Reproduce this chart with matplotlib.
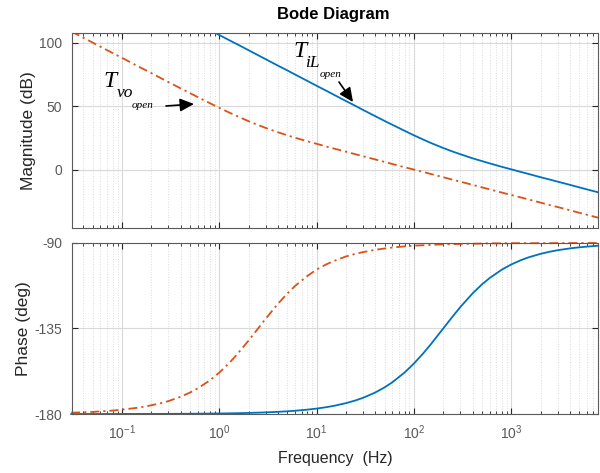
import numpy as np
import matplotlib.pyplot as plt
from matplotlib.ticker import LogLocator, FixedLocator

plt.rcParams['font.family'] = ['Liberation Sans', 'DejaVu Sans']
plt.rcParams['axes.unicode_minus'] = False
plt.rcParams['mathtext.fontset'] = 'custom'
plt.rcParams['mathtext.rm'] = 'Liberation Sans'

# frequency points (Hz) and values
freq = [0.03, 0.04, 0.05, 0.06, 0.08, 0.1, 0.125, 0.15, 0.2, 0.25, 0.3, 0.4, 0.5, 0.6, 0.8,
        1, 1.25, 1.5, 2, 2.5, 3, 4, 5, 6, 8, 10, 12.5, 15, 20, 25, 30, 40, 50, 60, 80,
        100, 125, 150, 200, 250, 300, 400, 500, 600, 800, 1000, 1250, 1500, 2000, 2500,
        3000, 4000, 5000, 6000, 7830]

mag_vo = [108.9, 103.9, 100.0, 96.8, 91.8, 88.0, 84.1, 80.9, 76.0, 72.1, 68.9, 64.0, 60.2,
          57.1, 52.3, 48.6, 45.1, 42.3, 38.1, 35.1, 32.8, 29.4, 27.0, 25.1, 22.3, 20.3, 18.2,
          16.6, 14.1, 12.1, 10.5, 8.0, 6.0, 4.4, 1.9, 0.0, -1.9, -3.5, -6.0, -8.0, -9.5,
          -12.0, -14.0, -15.6, -18.1, -20.0, -21.9, -23.5, -26.0, -28.0, -29.5, -32.0, -34.0,
          -35.6, -37.9]
mag_il = [166.9, 161.9, 158.1, 154.9, 149.9, 146.0, 142.1, 139.0, 134.0, 130.1, 126.9, 121.9,
          118.1, 114.9, 109.9, 106.0, 102.1, 99.0, 94.0, 90.1, 86.9, 81.9, 78.1, 74.9, 69.9,
          66.0, 62.2, 59.0, 54.0, 50.2, 47.0, 42.1, 38.3, 35.3, 30.6, 27.0, 23.6, 20.9, 17.0,
          14.2, 12.1, 8.9, 6.7, 4.9, 2.2, 0.2, -1.8, -3.4, -6.0, -7.9, -9.5, -12.0, -14.0,
          -15.6, -17.9]

ph_vo = [-179.3, -179.1, -178.9, -178.6, -178.2, -177.7, -177.1, -176.6, -175.4, -174.3,
         -173.2, -170.9, -168.7, -166.5, -162.3, -158.2, -153.4, -149.0, -141.3, -135.0,
         -129.8, -122.0, -116.6, -112.6, -107.4, -104.0, -101.3, -99.5, -97.1, -95.7, -94.8,
         -93.6, -92.9, -92.4, -91.8, -91.4, -91.2, -91.0, -90.7, -90.6, -90.5, -90.4, -90.3,
         -90.2, -90.2, -90.1, -90.1, -90.1, -90.1, -90.1, -90.05, -90.04, -90.03, -90.02,
         -90.02]
ph_il = [-180.0, -180.0, -180.0, -180.0, -180.0, -179.97, -179.96, -179.96, -179.94, -179.93,
         -179.91, -179.89, -179.86, -179.83, -179.77, -179.71, -179.64, -179.57, -179.43,
         -179.28, -179.14, -178.85, -178.57, -178.28, -177.71, -177.14, -176.42, -175.71,
         -174.29, -172.87, -171.47, -168.69, -165.96, -163.3, -158.2, -153.43, -147.99,
         -143.13, -135.0, -128.66, -123.69, -116.57, -111.8, -108.43, -104.04, -101.31,
         -99.09, -97.59, -95.71, -94.57, -93.81, -92.86, -92.29, -91.91, -91.46]

blue = '#0072BD'
orange = '#D95319'
dashdot = (0, (5, 2.2, 1.2, 2.2))

fig = plt.figure(figsize=(6, 4.73), dpi=100)
ax1 = fig.add_axes([0.12, 0.518, 0.877, 0.412])
ax2 = fig.add_axes([0.12, 0.1247, 0.877, 0.3616], sharex=ax1)

ax1.plot(freq, mag_il, color=blue, lw=1.3)
ax1.plot(freq, mag_vo, color=orange, lw=1.3, linestyle=dashdot)
ax2.plot(freq, ph_il, color=blue, lw=1.3, clip_on=False)
ax2.plot(freq, ph_vo, color=orange, lw=1.3, linestyle=dashdot, clip_on=False)

for ax in (ax1, ax2):
    ax.set_xscale('log')
    ax.set_xlim(0.0306, 7830)
    ax.xaxis.set_major_locator(LogLocator(base=10, numticks=20))
    ax.xaxis.set_minor_locator(LogLocator(base=10, subs=np.arange(2, 10), numticks=20))
    ax.grid(True, which='major', color='#d9d9d9', lw=0.8)
    ax.grid(True, which='minor', axis='x', color='#dcdcdc', lw=0.7, linestyle=':')
    ax.tick_params(which='both', direction='in', top=True, right=True,
                   labelsize=10, colors='#262626', labelcolor='#595959')
    ax.tick_params(which='major', length=4)
    ax.tick_params(which='minor', length=2.5)
    ax.tick_params(axis='y', pad=7)
    for s in ax.spines.values():
        s.set_color('#5a5a5a')
        s.set_linewidth(0.8)
    ax.set_axisbelow(True)

ax1.set_ylim(-46, 107.5)
ax1.yaxis.set_major_locator(FixedLocator([0, 50, 100]))
ax1.tick_params(axis='x', labelbottom=False)
ax1.set_ylabel('Magnitude (dB)', fontsize=12.5, color='#262626', labelpad=2.5)

ax2.set_ylim(-180, -90)
ax2.yaxis.set_major_locator(FixedLocator([-180, -135, -90]))
ax2.set_ylabel('Phase (deg)', fontsize=12.5, color='#262626', labelpad=2.5)
ax2.set_xlabel('Frequency  (Hz)', fontsize=11.5, color='#262626', labelpad=6)
ax2.tick_params(axis='x', pad=7)

fig.suptitle('Bode Diagram', x=0.556, y=0.985, fontsize=12, fontweight='bold')

# curve labels (figure pixels) with arrows
lab = dict(xycoords='figure pixels', family='Liberation Serif', style='italic',
           color='k', va='baseline', ha='left')
ax1.annotate('T', xy=(103, 386), fontsize=17, **lab)
ax1.annotate('vo', xy=(117, 376), fontsize=12.5, **lab)
ax1.annotate('open', xy=(132, 365), fontsize=8, **lab)
ax1.annotate('T', xy=(293, 416), fontsize=17, **lab)
ax1.annotate('iL', xy=(305, 406), fontsize=12.5, **lab)
ax1.annotate('open', xy=(320, 396), fontsize=8, **lab)

arrow = dict(arrowstyle='-|>,head_length=0.6,head_width=0.28', color='k', lw=1.2,
             mutation_scale=14, shrinkA=0, shrinkB=0)
ax1.annotate('', xy=(194, 369), xytext=(166, 367), xycoords='figure pixels',
             textcoords='figure pixels', arrowprops=arrow)
ax1.annotate('', xy=(353, 371), xytext=(339, 391), xycoords='figure pixels',
             textcoords='figure pixels', arrowprops=arrow)

fig.savefig('out.png', dpi=100)
